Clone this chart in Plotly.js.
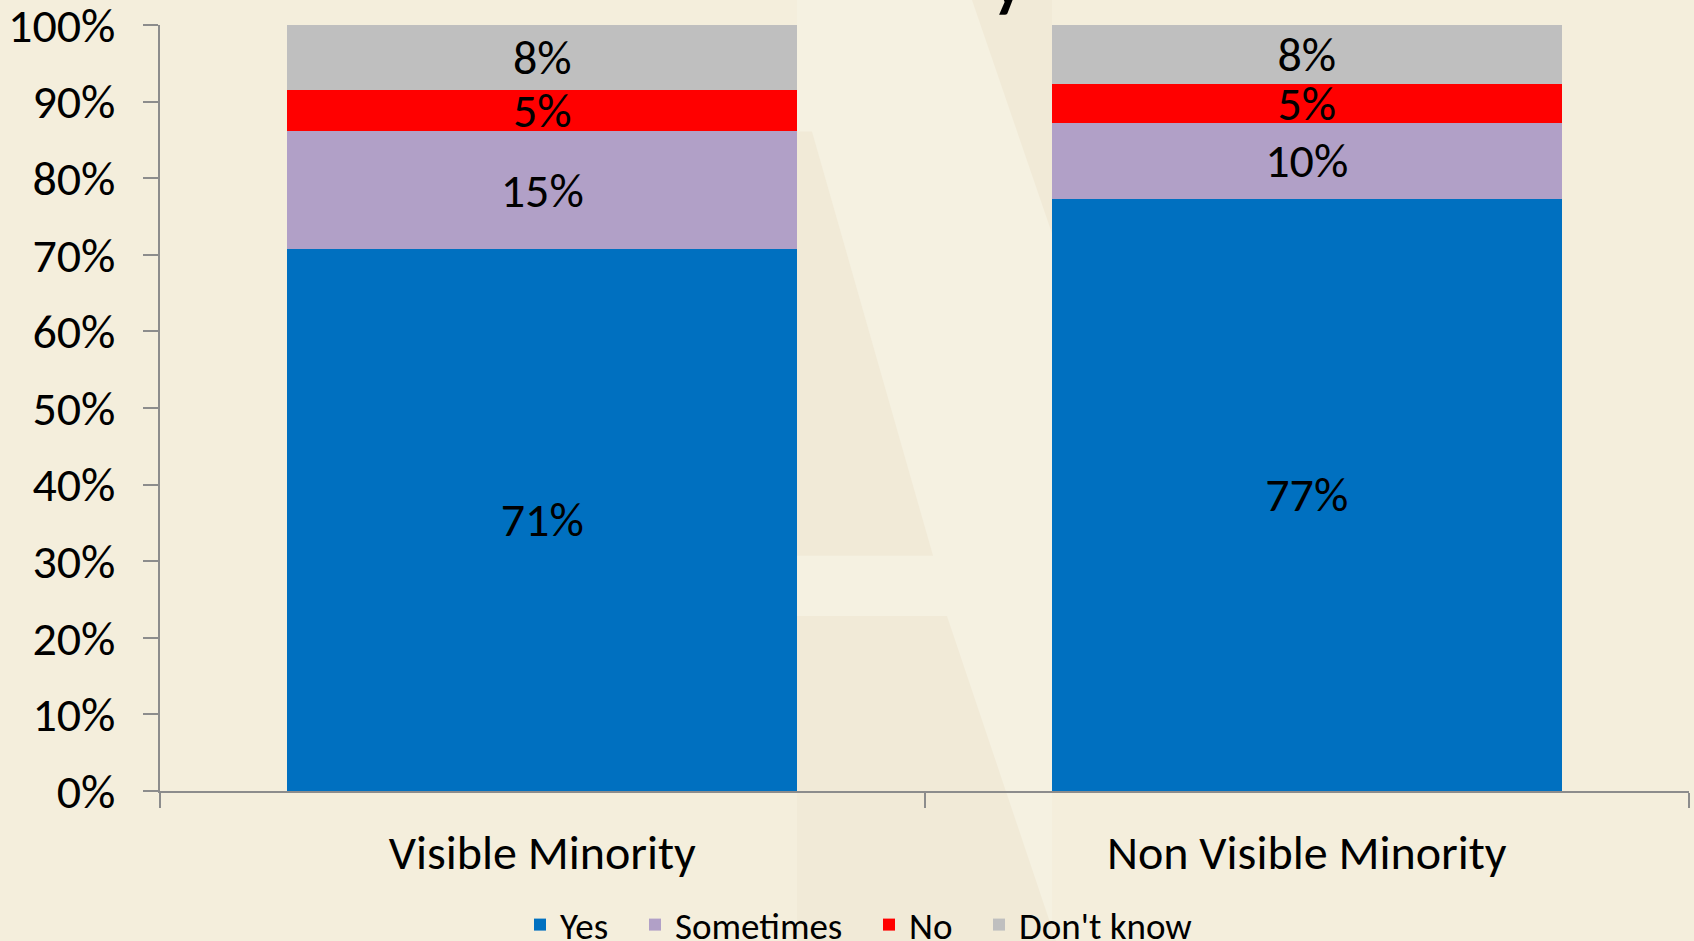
<!DOCTYPE html>
<html>
<head>
<meta charset="utf-8">
<script src="https://cdn.plot.ly/plotly-3.0.1.min.js"></script>
<style>
  html, body { margin: 0; padding: 0; background: #F4EEDC; }
  #chart { width: 1694px; height: 941px; }
</style>
</head>
<body>
<div id="chart"></div>
<script>
// Categories
const categories = ['Visible Minority', 'Non Visible Minority'];
// Series values (percent)
const yesValues = [70.8, 77.3];
const sometimesValues = [15.3, 9.9];
const noValues = [5.45, 5.1];
const dontKnowValues = [8.45, 7.7];
// Series names
const seriesNames = ['Yes', 'Sometimes', 'No', "Don't know"];
// Y tick values and labels
const yTickVals = [0, 10, 20, 30, 40, 50, 60, 70, 80, 90, 100];
const yTickText = yTickVals.map(v => v + '%');

const FONT = 'Carlito, Calibri, Lato, "Open Sans", sans-serif';
const colors = ['#0070C0', '#B1A0C7', '#FF0000', '#BFBFBF'];
const seriesData = [yesValues, sometimesValues, noValues, dontKnowValues];
const legendIds = ['legend', 'legend2', 'legend3', 'legend4'];

const traces = seriesData.map((vals, i) => ({
  type: 'bar',
  name: seriesNames[i],
  legend: legendIds[i],
  x: categories,
  y: vals,
  marker: { color: colors[i], line: { width: 0 } },
  texttemplate: '%{y:.0f}%',
  textposition: 'inside',
  insidetextanchor: 'middle',
  textangle: 0,
  constraintext: 'none',
  textfont: { family: FONT, size: 48, color: '#000000' },
  hoverinfo: 'none'
}));

// layout helpers: page pixels -> paper coords
const L = 160, PW = 1529, B = 791, PH = 765.4;
const px2x = p => (p - L) / PW;
const px2y = p => (B - p) / PH;
function poly(pts) {
  return 'M' + pts.map(p => px2x(p[0]).toFixed(4) + ',' + px2y(p[1]).toFixed(4)).join('L') + 'Z';
}
// faint background watermark (decoration)
const wmShapes = [
  { pts: [[797, -5], [1052, -5], [1052, 946], [797, 946]], color: '#F5F1E1' },
  { pts: [[797, 132], [812, 132], [933, 556], [797, 556]], color: '#F1EAD7' },
  { pts: [[797, 616], [947, 616], [1058, 946], [797, 946]], color: '#F1EAD7' },
  { pts: [[970, -5], [1052, -5], [1052, 234]], color: '#F1EAD7' }
].map(s => ({
  type: 'path', xref: 'paper', yref: 'paper', layer: 'below',
  path: poly(s.pts), fillcolor: s.color, line: { width: 0 }
}));

// legend entry left positions (page px)
const legendLeft = [520, 635, 869, 979];
const legendFont = { family: FONT, size: 37, color: '#000000' };

const layout = {
  width: 1694,
  height: 941,
  barmode: 'stack',
  bargap: 0.333,
  paper_bgcolor: '#F4EEDC',
  plot_bgcolor: 'rgba(0,0,0,0)',
  margin: { l: 160, r: 5, t: 25, b: 150, autoexpand: false },
  font: { family: FONT, color: '#000000' },
  shapes: wmShapes,
  xaxis: {
    type: 'category',
    showline: true,
    linecolor: '#8C8C8C',
    linewidth: 2,
    ticks: 'outside',
    tickson: 'boundaries',
    ticklen: 15,
    tickwidth: 2,
    tickcolor: '#8C8C8C',
    tickfont: { family: FONT, size: 48, color: '#000000' },
    ticklabelstandoff: 18,
    ticklabeloverflow: 'allow',
    showgrid: false,
    zeroline: false,
    fixedrange: true
  },
  yaxis: {
    range: [0, 100],
    tickmode: 'array',
    tickvals: yTickVals,
    ticktext: yTickText,
    showline: true,
    linecolor: '#8C8C8C',
    linewidth: 2,
    ticks: 'outside',
    ticklen: 15,
    tickwidth: 2,
    tickcolor: '#8C8C8C',
    tickfont: { family: FONT, size: 48, color: '#000000' },
    ticklabelstandoff: 18,
    ticklabeloverflow: 'allow',
    showgrid: false,
    zeroline: false,
    fixedrange: true
  },
  annotations: [{
    text: '<b>y</b>',
    xref: 'paper', yref: 'paper',
    x: 0.5546, y: 1.0125,
    yshift: -9,
    xanchor: 'center', yanchor: 'bottom',
    showarrow: false,
    font: { family: FONT, size: 64, color: '#000000' }
  }],
  showlegend: true
};

legendIds.forEach((id, i) => {
  layout[id] = {
    orientation: 'h',
    x: px2x(legendLeft[i]),
    xanchor: 'left',
    y: -0.175,
    yanchor: 'middle',
    bgcolor: 'rgba(0,0,0,0)',
    borderwidth: 0,
    font: legendFont
  };
});

Plotly.newPlot('chart', traces, layout, { displayModeBar: false, staticPlot: true });
</script>
</body>
</html>
